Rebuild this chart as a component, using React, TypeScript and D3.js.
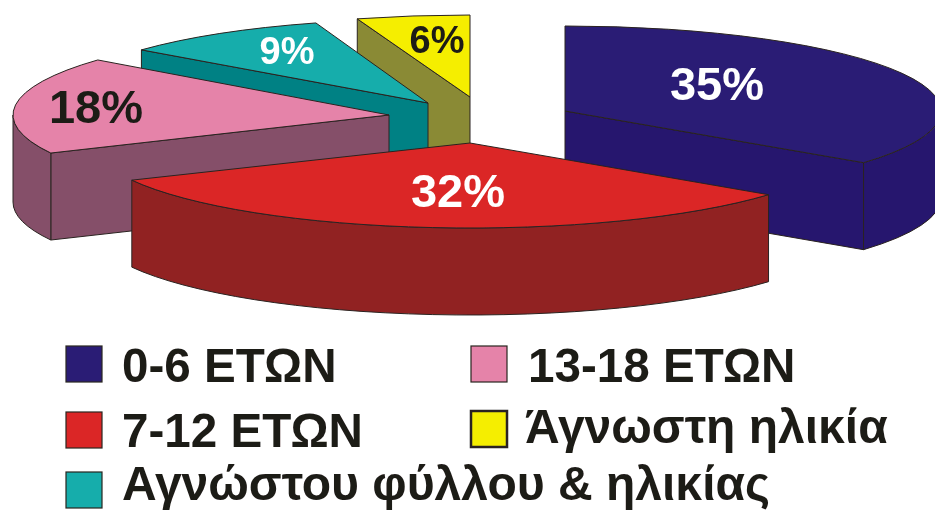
import React from "react";
import * as d3 from "d3";

const categories = ["0-6 ΕΤΩΝ", "7-12 ΕΤΩΝ", "13-18 ΕΤΩΝ", "Αγνώστου φύλλου & ηλικίας", "Άγνωστη ηλικία"];
const sliceShares = [35.4, 32.4, 18.1, 9.2, 4.9];
const percentLabels = ["35%", "32%", "18%", "9%", "6%"];
const topColors = ["#2b1f75", "#db2825", "#e583a9", "#16adab", "#f5ee00"];
const wallColors = ["#28136e", "#912424", "#855069", "#048184", "#8a8a34"];
const labelColors = ["#ffffff", "#ffffff", "#1e1a17", "#ffffff", "#1e1a17"];

const DEPTH = 87;
const radii: [number, number][] = [[376, 85], [376, 85], [376, 87], [370, 84], [372, 82]];
const apexes: [number, number][] = [[565, 111], [470, 143], [389, 115], [428, 103], [470, 97]];
const labelPos = [
  { x: 717, y: 100, size: 47 }, { x: 458, y: 207, size: 47 }, { x: 96, y: 123, size: 47 },
  { x: 287, y: 64, size: 38 }, { x: 437, y: 53, size: 38 },
];
const drawOrder = [4, 3, 2, 0, 1];
const legendItems = [
  { i: 0, sx: 66, sy: 346, tx: 122, ty: 382, fs: 47.6 }, { i: 1, sx: 66, sy: 412, tx: 122, ty: 447, fs: 47.6 },
  { i: 3, sx: 66, sy: 472, tx: 122, ty: 500, fs: 48 }, { i: 2, sx: 471, sy: 346, tx: 528, ty: 382, fs: 47.6 },
  { i: 4, sx: 471, sy: 411, tx: 525, ty: 443, fs: 48 },
];

const arcs = d3.pie<number>().sort(null).value((d) => d)(sliceShares);
const FONT = "'Liberation Sans', Arial, sans-serif";
const EDGE = "#2a2320";

function slicePaths(i: number) {
  const c = apexes[i];
  const [rx, ry] = radii[i];
  const { startAngle: a0, endAngle: a1 } = arcs[i];
  const pt = (a: number, dy = 0): [number, number] => [c[0] + rx * Math.sin(a), c[1] - ry * Math.cos(a) + dy];
  const arcTo = (from: number, to: number, dy = 0) => {
    const p = pt(to, dy);
    const large = Math.abs(to - from) > Math.PI ? 1 : 0;
    return `A${rx},${ry} 0 ${large} ${to > from ? 1 : 0} ${p[0]},${p[1]}`;
  };
  const radial = (a: number) => {
    const p = pt(a);
    return `M${c[0]},${c[1]}L${p[0]},${p[1]}V${p[1] + DEPTH}L${c[0]},${c[1] + DEPTH}Z`;
  };
  const walls: string[] = [];
  if (Math.sin(a1) > 0.01) walls.push(radial(a1));
  if (Math.sin(a0) < -0.01) walls.push(radial(a0));
  const s = Math.max(a0, Math.PI / 2), e = Math.min(a1, (3 * Math.PI) / 2);
  if (e > s) {
    const p = pt(s), q = pt(e, DEPTH);
    walls.push(`M${p[0]},${p[1]}${arcTo(s, e)}L${q[0]},${q[1]}${arcTo(e, s, DEPTH)}Z`);
  }
  const start = pt(a0);
  const top = `M${c[0]},${c[1]}L${start[0]},${start[1]}${arcTo(a0, a1)}Z`;
  return { walls, top };
}

export default function App() {
  return (
    <svg width={935} height={512} style={{ position: "absolute", left: 0, top: 0, background: "#fff" }}>
      <defs>
        <filter id="soft" x="-5%" y="-5%" width="110%" height="110%">
          <feGaussianBlur stdDeviation="0.6" />
        </filter>
        <clipPath id="topClip"><rect x={0} y={14} width={935} height={498} /></clipPath>
      </defs>
      <g filter="url(#soft)">
        {drawOrder.map((i) => {
          const { walls, top } = slicePaths(i);
          return (
            <g key={i} stroke={EDGE} strokeWidth={1} strokeLinejoin="round" clipPath={i === 4 ? "url(#topClip)" : undefined}>
              {walls.map((d, k) => <path key={k} d={d} fill={wallColors[i]} />)}
              <path d={top} fill={topColors[i]} />
            </g>
          );
        })}
        {percentLabels.map((t, i) => (
          <text key={t} x={labelPos[i].x} y={labelPos[i].y} textAnchor="middle" fontFamily={FONT} fontWeight="bold"
            fontSize={labelPos[i].size} fill={labelColors[i]}>{t}</text>
        ))}
        {legendItems.map((l) => (
          <g key={l.i}>
            <rect x={l.sx} y={l.sy} width={36} height={36} fill={topColors[l.i]} stroke={EDGE}
              strokeWidth={l.i === 4 ? 2.5 : 1.2} />
            <text x={l.tx} y={l.ty} fontFamily={FONT} fontWeight="bold" fontSize={l.fs} fill="#1e1a17">{categories[l.i]}</text>
          </g>
        ))}
      </g>
    </svg>
  );
}
